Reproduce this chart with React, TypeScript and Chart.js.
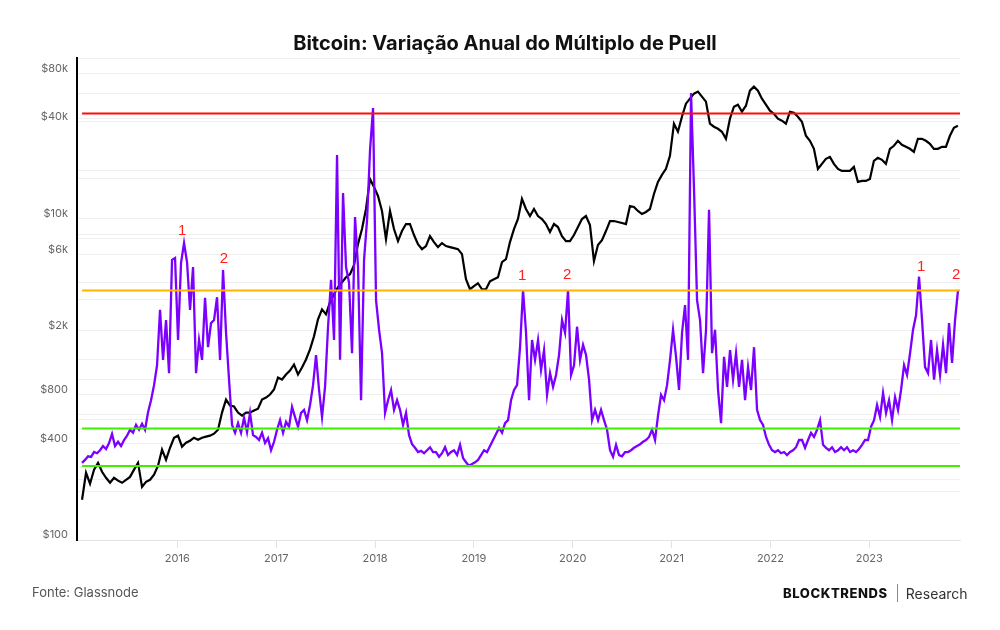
import React, { useEffect, useRef } from 'react';
import { Chart, registerables } from 'chart.js';

Chart.register(...registerables);

// ---- axis / tick data ----
const YEARS = [2016, 2017, 2018, 2019, 2020, 2021, 2022, 2023];
const PRICE_TICKS = [100, 200, 400, 600, 800, 1000, 2000, 4000, 6000, 8000, 10000, 20000, 40000, 60000, 80000, 100000];
const PRICE_LABELED = [100, 400, 800, 2000, 6000, 10000, 40000, 80000];
const X_MIN = 2014.985;
const X_MAX = 2023.918;

// ---- series (decimal-year start + fixed sampling step) ----
const SERIES_START = 2015.036;
const PUELL_STEP = 0.03035; // ~11 days
const BTC_STEP = 0.04046; // ~15 days

// Variação anual do Múltiplo de Puell (right, hidden linear axis)
const PUELL = [
  1.28, 1.33, 1.39, 1.38, 1.46, 1.44, 1.49, 1.56, 1.51, 1.61,
  1.76, 1.56, 1.63, 1.56, 1.66, 1.73, 1.83, 1.78, 1.91, 1.83,
  1.93, 1.83, 2.12, 2.32, 2.57, 2.90, 3.82, 2.99, 3.65, 2.77,
  4.65, 4.68, 3.32, 4.60, 4.93, 4.61, 3.82, 4.53, 2.77, 3.32,
  2.99, 4.02, 3.20, 3.60, 3.65, 4.03, 2.99, 4.48, 3.44, 2.66,
  1.91, 1.78, 1.94, 1.78, 2.03, 1.79, 2.11, 1.74, 1.71,
  1.66, 1.78, 1.61, 1.69, 1.49, 1.63, 1.83, 1.99, 1.78, 1.96,
  1.88, 2.21, 2.04, 1.88, 2.11, 2.16, 1.99, 2.24, 2.57, 3.07,
  2.49, 2.04, 2.54, 3.54, 4.32, 3.32, 6.39, 2.99, 5.76, 4.53,
  4.27, 3.10, 5.36, 4.53, 2.32, 4.65, 5.31, 6.47, 7.17, 3.98,
  3.49, 3.10, 2.11, 2.32, 2.49, 2.16, 2.32, 2.16, 1.91, 2.11,
  1.74, 1.59, 1.53, 1.46, 1.48, 1.44, 1.49, 1.54, 1.46,
  1.46, 1.38, 1.44, 1.54, 1.41, 1.46, 1.49, 1.41, 1.58, 1.36,
  1.29, 1.23, 1.26, 1.29, 1.33, 1.41, 1.49, 1.46, 1.56, 1.66,
  1.76, 1.86, 1.78, 1.94, 1.99, 2.32, 2.49, 2.57, 3.20, 4.15,
  3.44, 2.32, 3.32, 2.99, 3.32, 2.82, 3.15, 2.41, 2.77, 2.54,
  2.74, 3.07, 3.65, 3.44, 4.15, 2.74, 2.90, 3.54, 2.99, 3.24,
  3.07, 2.66, 1.99, 2.16, 1.99, 2.16, 1.99, 1.83,
  1.49, 1.38, 1.58, 1.41, 1.39, 1.46, 1.46, 1.49, 1.53, 1.56,
  1.59, 1.63, 1.66, 1.71, 1.83, 1.66, 2.07, 2.41, 2.32, 2.57,
  2.99, 3.49, 3.04, 2.49, 3.44, 3.90, 2.99, 7.42, 5.81, 3.98,
  3.65, 2.77, 3.49, 5.48, 3.10, 3.49, 2.49, 1.94, 3.04, 2.54,
  3.15, 2.66, 3.10, 2.54, 2.99, 2.32, 2.87, 2.49, 3.20, 2.16,
  1.99, 1.91, 1.71, 1.58, 1.49, 1.46, 1.49, 1.44, 1.46, 1.41,
  1.46, 1.49, 1.54, 1.66, 1.66, 1.53, 1.66, 1.78, 1.71, 1.83,
  1.99, 1.58, 1.53, 1.49, 1.54, 1.46, 1.49, 1.54, 1.49, 1.54,
  1.46, 1.49, 1.46, 1.51, 1.58, 1.66, 1.66, 1.88, 1.99, 2.24,
  2.04, 2.44, 2.11, 2.32, 1.99, 2.37, 2.16, 2.49, 2.90, 2.74,
  3.10, 3.49, 3.73, 4.37, 3.65, 2.87, 2.77, 3.32, 2.66, 3.15,
  2.74, 3.24, 2.77, 3.60, 2.94, 3.65, 4.15,
];

// Bitcoin price in USD (left, log axis)
const BTC = [
  178, 262, 224, 274, 302, 266, 244, 227, 244, 234,
  227, 237, 247, 274, 302, 214, 230, 237, 255, 290,
  365, 316, 375, 433, 446, 381, 403, 415, 433, 421,
  433, 440, 446, 459, 486, 621, 748, 686, 677, 621,
  594, 621, 621, 639, 657,
  748, 770, 804, 864, 1027, 997, 1072, 1135, 1237, 1072,
  1185, 1330, 1535, 1851, 2363, 2728, 2539, 3017, 3385, 3743,
  4022, 4322, 4512, 5136, 6946, 8617, 11487, 17680, 15760, 13848,
  11162, 7463, 11162, 8617, 7252, 8373, 9259, 9259, 7905, 6946,
  6464, 6749, 7792,
  7148, 6653, 7046, 6749, 6653, 6558, 6464, 6015, 4199, 3637,
  3797, 3965, 3637, 3637, 4080, 4199, 4322, 5363, 5598, 7148,
  8617, 9949, 13263, 11487, 10388, 11487, 10388, 9949, 9259, 8253,
  9259, 8869, 7792, 7252, 7252, 7905, 8869, 9949, 10388, 9127,
  5440, 6847, 7357, 8373, 9667,
  9667, 9530, 9393, 9259, 11994, 11823, 11162, 10690, 11003, 11487,
  14251, 16935, 18727, 20414, 24610, 38980, 34747, 43108, 51963, 55836,
  59996, 61749, 57467, 53481, 38980, 37336, 36277, 34747, 31420, 41885,
  49772, 51223, 46321, 50493, 62642, 66350, 62642, 55836, 51223, 46991,
  45005, 41885, 40699, 38980,
  46321, 45659, 43108, 40119, 32806, 30530, 27213, 20414, 21935, 23570,
  24258, 21935, 20414, 19835, 19835, 19835, 21010, 16935, 17180, 17180,
  17680, 22902, 23912, 23233, 21935, 27213, 28413, 30530, 28824, 28008,
  27213, 26066, 31420, 31420, 30530, 29240, 27213, 27213, 28008, 28008,
  32806, 36803, 37877,
];

// horizontal reference levels (on the Puell axis)
const LEVELS = [7.08, 4.14, 1.85, 1.23];
const LEVEL_COLORS = ['#ff0d0d', '#ffb400', '#3cf000', '#3cf000'];

// peak annotations
const NOTE_X = [2016.048, 2016.472, 2019.488, 2019.943, 2023.524, 2023.878];
const NOTE_Y = [5.13, 4.66, 4.38, 4.4, 4.53, 4.4];
const NOTE_TEXT = ['1', '2', '1', '2', '1', '2'];

const fmtPrice = (v: number) => (v >= 1000 ? `$${v / 1000}k` : `$${v}`);

const overlayPlugin = {
  id: 'overlay',
  afterDatasetsDraw(chart: any) {
    const { ctx, scales } = chart;
    const xs = scales.x;
    const yp = scales.yP;
    const x0 = xs.getPixelForValue(SERIES_START);
    const x1 = xs.getPixelForValue(SERIES_START + (PUELL.length - 1) * PUELL_STEP);
    ctx.save();
    LEVELS.forEach((v, i) => {
      const y = yp.getPixelForValue(v);
      ctx.beginPath();
      ctx.strokeStyle = LEVEL_COLORS[i];
      ctx.lineWidth = 2;
      ctx.moveTo(x0, y);
      ctx.lineTo(x1 + 2, y);
      ctx.stroke();
    });
    ctx.fillStyle = '#ff1f1f';
    ctx.font = '15px "Liberation Sans", Arial, sans-serif';
    ctx.textAlign = 'center';
    ctx.textBaseline = 'middle';
    NOTE_TEXT.forEach((t, i) => {
      ctx.fillText(t, xs.getPixelForValue(NOTE_X[i]), yp.getPixelForValue(NOTE_Y[i]));
    });
    ctx.restore();
  },
};

export default function App() {
  const ref = useRef<HTMLCanvasElement>(null);

  useEffect(() => {
    if (!ref.current) return;
    Chart.defaults.font.family = 'Inter, "Noto Sans", sans-serif';
    const puellData = PUELL.map((v, i) => ({ x: SERIES_START + i * PUELL_STEP, y: v }));
    const btcData = BTC.map((v, i) => ({ x: SERIES_START + i * BTC_STEP, y: v }));

    const chart = new Chart(ref.current, {
      type: 'line',
      data: {
        datasets: [
          {
            label: 'BTC',
            data: btcData,
            yAxisID: 'y',
            borderColor: '#000000',
            borderWidth: 2.2,
            pointRadius: 0,
            tension: 0,
            order: 2,
          },
          {
            label: 'Puell',
            data: puellData,
            yAxisID: 'yP',
            borderColor: '#7b00ff',
            borderWidth: 2.3,
            pointRadius: 0,
            tension: 0,
            order: 1,
          },
        ],
      },
      options: {
        animation: false,
        responsive: false,
        events: [],
        layout: { padding: { top: 58, right: 40, left: 0, bottom: 0 } },
        plugins: {
          legend: { display: false },
          tooltip: { enabled: false },
          title: { display: false },
        },
        scales: {
          x: {
            type: 'linear',
            min: X_MIN,
            max: X_MAX,
            afterBuildTicks: (s: any) => {
              s.ticks = YEARS.map((v) => ({ value: v }));
            },
            afterFit: (s: any) => {
              s.height = 90;
            },
            grid: { drawOnChartArea: false, drawTicks: true, tickLength: 8, color: '#e3e3e3' },
            border: { color: '#e3e3e3', width: 1 },
            ticks: {
              autoSkip: false,
              maxRotation: 0,
              padding: 4,
              color: '#666666',
              font: { size: 11 },
              callback: (v: any) => String(v),
            },
          },
          y: {
            type: 'logarithmic',
            position: 'left',
            min: 100,
            max: 100000,
            afterBuildTicks: (s: any) => {
              s.ticks = PRICE_TICKS.map((v) => ({ value: v }));
            },
            afterFit: (s: any) => {
              s.width = 77;
            },
            grid: { color: '#efefef', drawTicks: false },
            border: { color: '#000000', width: 2 },
            ticks: {
              autoSkip: false,
              padding: 9,
              labelOffset: -5,
              color: '#666666',
              font: { size: 11 },
              callback: (v: any) => (PRICE_LABELED.includes(Number(v)) ? fmtPrice(Number(v)) : ''),
            },
          },
          yP: {
            type: 'linear',
            position: 'right',
            min: 0,
            max: 8,
            afterFit: (s: any) => {
              s.width = 0;
            },
            grid: { color: '#efefef', drawTicks: false },
            border: { display: false },
            ticks: { display: false, stepSize: 1 },
          },
        },
      },
      plugins: [overlayPlugin],
    } as any);

    return () => chart.destroy();
  }, []);

  return (
    <div
      style={{
        position: 'fixed',
        left: 0,
        top: 0,
        width: 1000,
        height: 630,
        background: '#ffffff',
        fontFamily: 'Inter, "Noto Sans", sans-serif',
        overflow: 'hidden',
      }}
    >
      <canvas ref={ref} width={1000} height={630} style={{ position: 'absolute', left: 0, top: 0 }} />
      <div
        style={{
          position: 'absolute',
          top: 31,
          left: 5,
          width: 1000,
          textAlign: 'center',
          fontSize: 20,
          lineHeight: '24px',
          fontWeight: 700,
          color: '#111',
        }}
      >
        Bitcoin: Variação Anual do Múltiplo de Puell
      </div>
      <div style={{ position: 'absolute', top: 584, left: 32, fontSize: 13, lineHeight: '16px', color: '#555' }}>
        Fonte: Glassnode
      </div>
      <div
        style={{
          position: 'absolute',
          top: 584,
          left: 783,
          display: 'flex',
          alignItems: 'center',
          height: 18,
        }}
      >
        <span style={{ fontSize: 13, fontWeight: 800, letterSpacing: 0.6, color: '#111' }}>BLOCKTRENDS</span>
        <span style={{ display: 'inline-block', width: 1, height: 18, background: '#888', margin: '0 8px 0 9px' }} />
        <span style={{ fontSize: 14, color: '#333' }}>Research</span>
      </div>
    </div>
  );
}
